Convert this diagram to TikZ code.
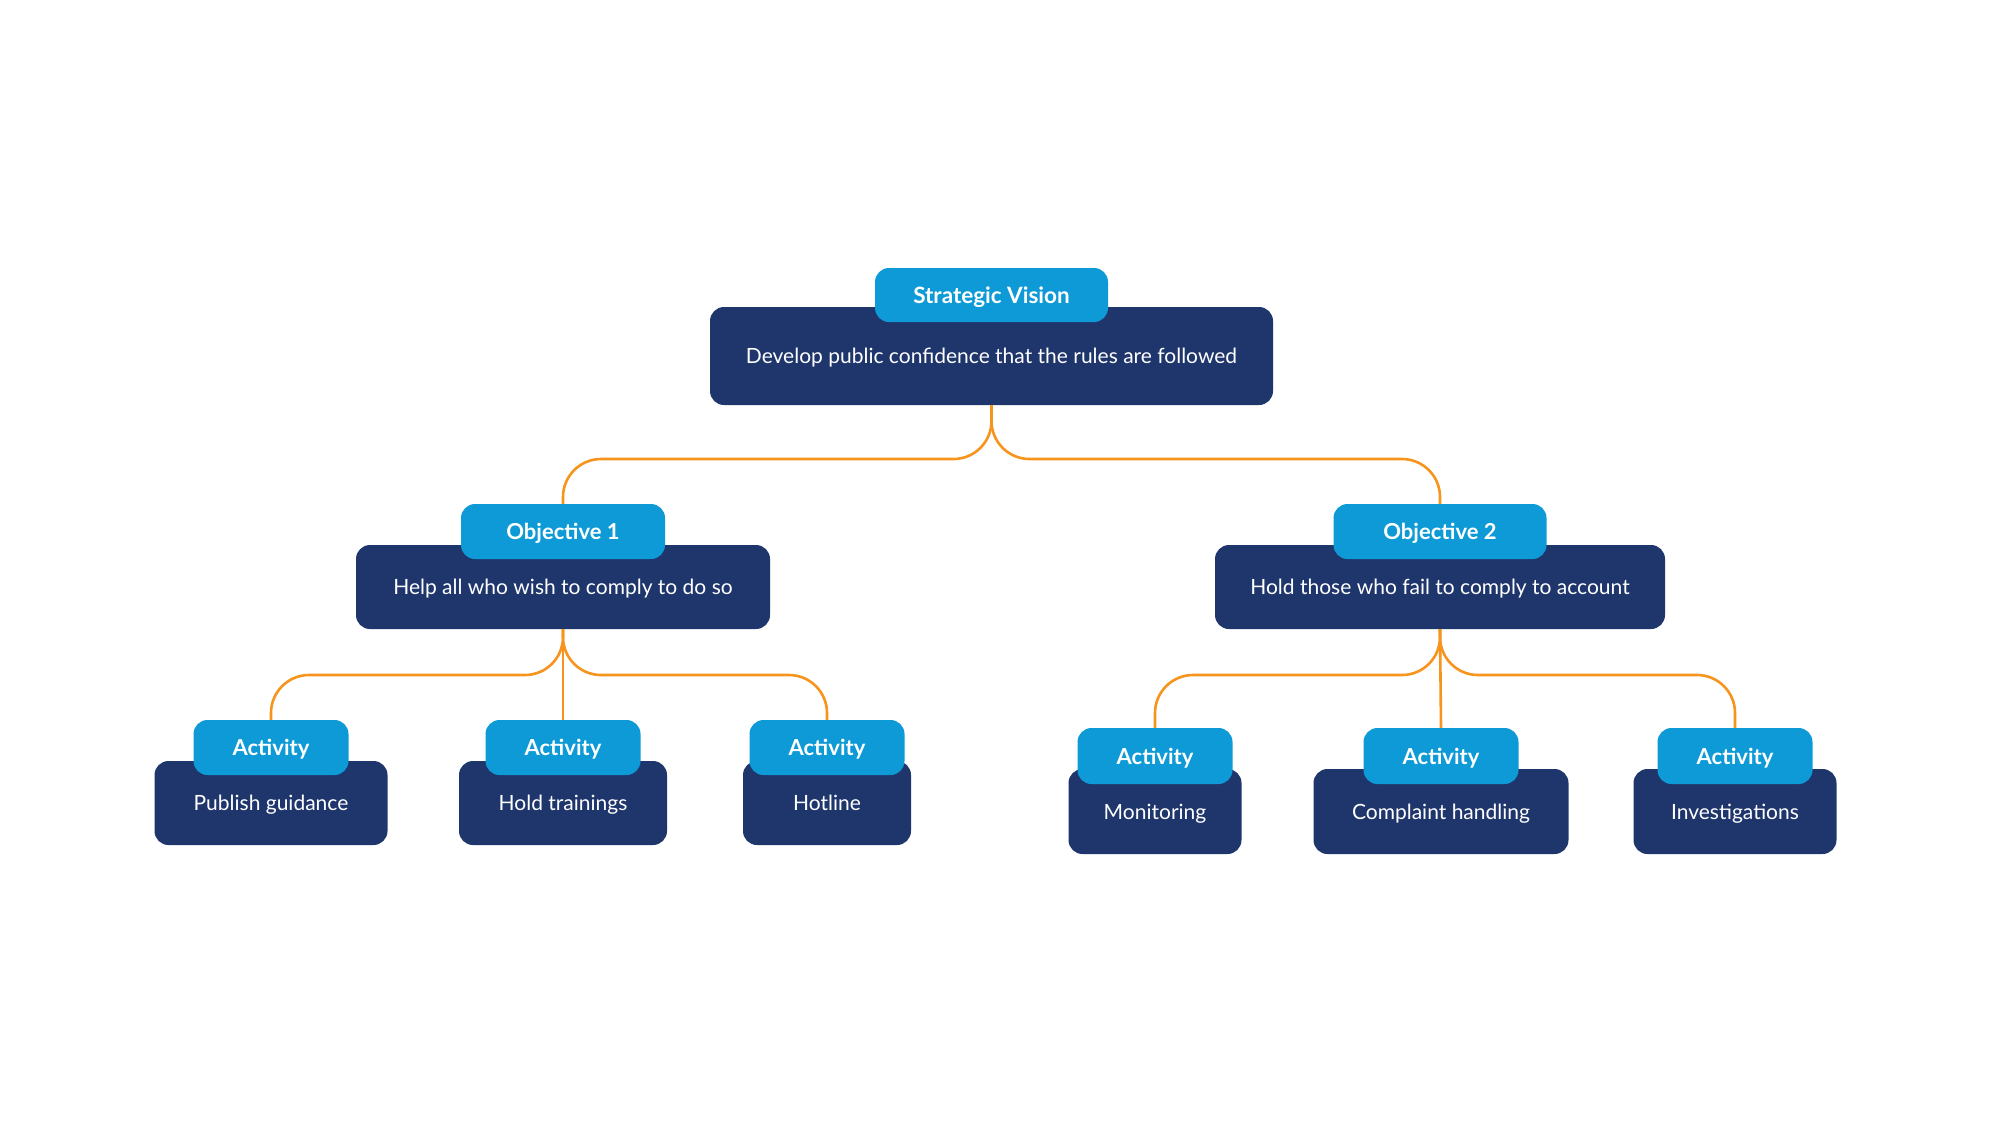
\documentclass[tikz,border=0pt]{standalone}
\usepackage{fontspec}
\setmainfont{Lato}
\usetikzlibrary{calc}
\definecolor{navy}{HTML}{1F366C}
\definecolor{sky}{HTML}{0D9AD6}
\definecolor{org}{HTML}{F7941D}
\tikzset{
  darkbox/.style={fill=navy, rounded corners=14pt, inner sep=0pt, text=white, font=\fontsize{21}{24}\selectfont, align=center, text height=15pt, text depth=0pt},
  labelbox/.style={fill=sky, rounded corners=14pt, inner sep=0pt, text=white, font=\bfseries\fontsize{22}{25}\selectfont, align=center, text height=16pt, text depth=0pt},
  conn/.style={draw=org, line width=2.6pt, rounded corners=38pt},
}
\begin{document}
\begin{tikzpicture}[x=1pt,y=-1pt]
\fill[white] (0,0) rectangle (1992,1120);
\useasboundingbox (0,0) rectangle (1992,1120);
% top
\node[darkbox, minimum width=563pt, minimum height=98pt] (svd) at (991.5,356) {Develop public confidence that the rules are followed};
\node[labelbox, minimum width=233pt, minimum height=54pt, font=\bfseries\fontsize{22.5}{25}\selectfont] (svl) at (991.5,295) {Strategic Vision};
% objectives
\node[darkbox, minimum width=414pt, minimum height=84pt] (o1d) at (563,587) {Help all who wish to comply to do so};
\node[labelbox, minimum width=204pt, minimum height=55pt] (o1l) at (563,531.5) {Objective 1};
\node[darkbox, minimum width=450pt, minimum height=84pt] (o2d) at (1440,587) {Hold those who fail to comply to account};
\node[labelbox, minimum width=213pt, minimum height=55pt] (o2l) at (1440,531.5) {Objective 2};
% left activities
\node[darkbox, minimum width=233pt, minimum height=84pt] (a1d) at (271,803) {Publish guidance};
\node[labelbox, minimum width=155pt, minimum height=55pt] (a1l) at (271,747.5) {Activity};
\node[darkbox, minimum width=208pt, minimum height=84pt] (a2d) at (563,803) {Hold trainings};
\node[labelbox, minimum width=155pt, minimum height=55pt] (a2l) at (563,747.5) {Activity};
\node[darkbox, minimum width=168pt, minimum height=84pt] (a3d) at (827,803) {Hotline};
\node[labelbox, minimum width=155pt, minimum height=55pt] (a3l) at (827,747.5) {Activity};
% right activities
\node[darkbox, minimum width=173pt, minimum height=85pt] (b1d) at (1155,811.5) {Monitoring};
\node[labelbox, minimum width=155pt, minimum height=56pt] (b1l) at (1155,756) {Activity};
\node[darkbox, minimum width=255pt, minimum height=85pt] (b2d) at (1441,811.5) {Complaint handling};
\node[labelbox, minimum width=155pt, minimum height=56pt] (b2l) at (1441,756) {Activity};
\node[darkbox, minimum width=203pt, minimum height=85pt] (b3d) at (1735,811.5) {Investigations};
\node[labelbox, minimum width=155pt, minimum height=56pt] (b3l) at (1735,756) {Activity};
% junction levels
\coordinate (j0) at (0,459);
\coordinate (j1) at (0,675);
% connectors
\draw[conn] (svd.south) -- (svd.south |- j0) -- (o1l.north |- j0) -- (o1l.north);
\draw[conn] (svd.south) -- (svd.south |- j0) -- (o2l.north |- j0) -- (o2l.north);
\draw[conn] (o1d.south) -- (o1d.south |- j1) -- (a1l.north |- j1) -- (a1l.north);
\draw[conn] (o1d.south) -- (a2l.north);
\draw[conn] (o1d.south) -- (o1d.south |- j1) -- (a3l.north |- j1) -- (a3l.north);
\draw[conn] (o2d.south) -- (o2d.south |- j1) -- (b1l.north |- j1) -- (b1l.north);
\draw[conn] (o2d.south) -- (b2l.north);
\draw[conn] (o2d.south) -- (o2d.south |- j1) -- (b3l.north |- j1) -- (b3l.north);
\end{tikzpicture}
\end{document}
